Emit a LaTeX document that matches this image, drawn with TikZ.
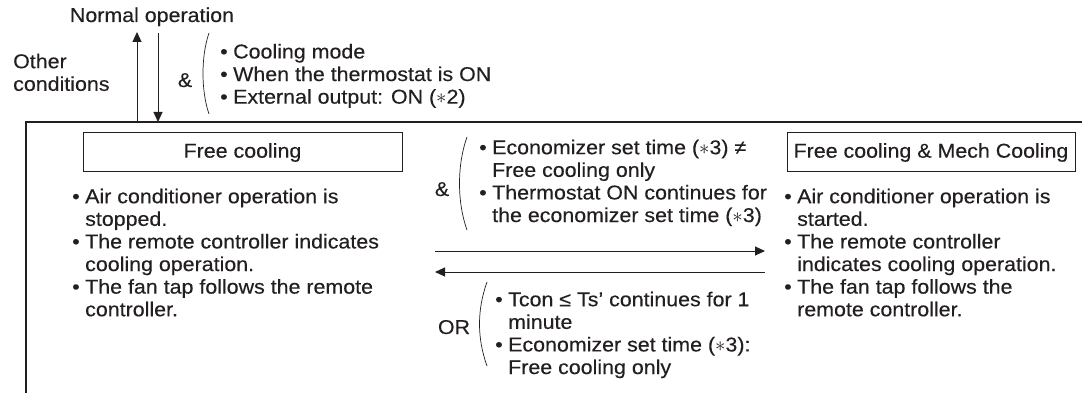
\documentclass[tikz,border=0pt]{standalone}
\usepackage{fontspec}
\setmainfont{Liberation Sans}[FakeStretch=1.07,FakeBold=0.3]
\usetikzlibrary{arrows.meta}
\definecolor{ink}{RGB}{35,31,32}
\newcommand\fsz{\fontsize{20}{22.6}\selectfont}
\newcommand\bul{\makebox[13pt][l]{\textbullet}}
\newcommand\ind{\hspace*{13pt}}
\newcommand\astr{$\ast$}
\begin{document}
\begin{tikzpicture}[x=1pt,y=-1pt,
  txt/.style={inner sep=0pt,font=\fsz,text=ink},
  blk/.style={txt,anchor=north west,align=left},
  statebox/.style={draw=ink,line width=1pt,inner sep=0pt,font=\fsz,text=ink,minimum height=39pt},
  frameline/.style={draw=ink,line width=1.3pt},
  conn/.style={draw=ink,line width=1pt,-{Triangle[length=10pt,width=9pt]}},
  paren/.style={draw=ink,line width=0.7pt}]
\useasboundingbox (0,0) rectangle (1082,393);
% frame
\coordinate (ftl) at (26,122);
\coordinate (ftr) at (1082,122);
\coordinate (fbl) at (26,393);
\draw[frameline] (fbl) -- (ftl) -- (ftr);
% top area
\node[txt,anchor=base] (normal) at (152,22) {Normal operation};
\node[blk] (other) at (13,52.2) {\strut Other\\conditions};
\coordinate (upS) at (137,122);
\coordinate (upE) at (137,32);
\coordinate (dnS) at (158,33);
\coordinate (dnE) at (158,122);
\draw[conn] (upS) -- (upE);
\draw[conn] (dnS) -- (dnE);
\node[txt,anchor=base] (amp1) at (185,87) {\&};
\draw[paren] (209,33) .. controls (201,56) and (201,91) .. (209,114);
\node[blk] (topcond) at (220,42.4) {\strut\bul Cooling mode\\\bul When the thermostat is ON\\\bul External output: ON (\astr2)};
% states
\node[statebox,minimum width=319pt] (fc) at (242.5,152.5) {Free cooling};
\node[statebox,minimum width=288pt] (fm) at (931,152.5) {Free cooling \& Mech Cooling};
\node[blk] (lc) at (72,187.2) {\strut\bul Air conditioner operation is\\\ind stopped.\\\bul The remote controller indicates\\\ind cooling operation.\\\bul The fan tap follows the remote\\\ind controller.};
\node[blk] (rc) at (784,187.2) {\strut\bul Air conditioner operation is\\\ind started.\\\bul The remote controller\\\ind indicates cooling operation.\\\bul The fan tap follows the\\\ind remote controller.};
% transition to mech
\node[txt,anchor=base] (amp2) at (442,196) {\&};
\draw[paren] (467,137) .. controls (457,165) and (457,202) .. (467,230);
\node[blk] (upcond) at (479,138.2) {\strut\bul Economizer set time (\astr3) ≠\\\ind Free cooling only\\\bul Thermostat ON continues for\\\ind the economizer set time (\astr3)};
\coordinate (rA) at (435,251);
\coordinate (rB) at (765,251);
\coordinate (lA) at (765,272);
\coordinate (lB) at (435,272);
\draw[conn] (rA) -- (rB);
\draw[conn] (lA) -- (lB);
% transition back
\node[txt,anchor=base] (or) at (454,334) {OR};
\draw[paren] (487,282) .. controls (477,310) and (477,338) .. (487,366);
\node[blk] (dncond) at (495,290.2) {\strut\bul Tcon ≤ Ts’ continues for 1\\\ind minute\\\bul Economizer set time (\astr3):\\\ind Free cooling only};
\end{tikzpicture}
\end{document}
